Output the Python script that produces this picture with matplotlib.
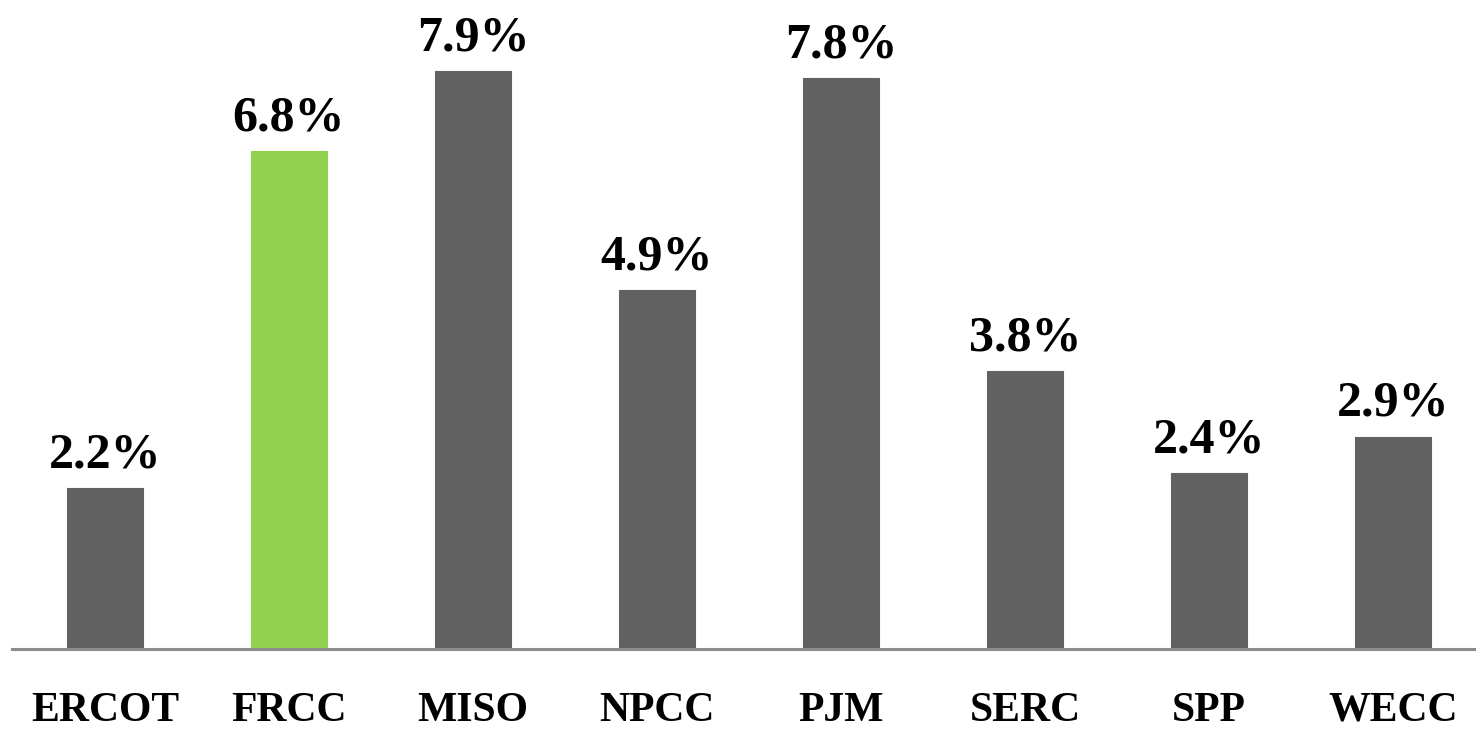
"""Bar chart of regional percentages, FRCC highlighted."""
import matplotlib
matplotlib.use("Agg")
import matplotlib.pyplot as plt
import numpy as np

regions = ["ERCOT", "FRCC", "MISO", "NPCC", "PJM", "SERC", "SPP", "WECC"]
values = [2.2, 6.8, 7.9, 4.9, 7.8, 3.8, 2.4, 2.9]
highlight = "FRCC"

GRAY = "#616161"
GREEN = "#92d050"

plt.rcParams["font.family"] = ["Liberation Serif", "DejaVu Serif"]
plt.rcParams["font.weight"] = "bold"

fig = plt.figure(figsize=(14.76, 7.31), dpi=100)
W, H = 1476, 731
ax = fig.add_axes([12 / W, 82 / H, 1 - 12 / W, 649 / H])

x = np.arange(len(regions))
colors = [GREEN if r == highlight else GRAY for r in regions]
ax.bar(x, values, width=0.41, color=colors, edgecolor=colors, linewidth=0.8, zorder=2)

ax.set_xlim(-0.505, 7.45)
ax.set_ylim(0, 8.87)

# value labels above bars
for xi, v in zip(x, values):
    ax.annotate(f"{v:.1f}%", xy=(xi, v), xytext=(0, 15), textcoords="offset points",
                ha="center", va="baseline", fontsize=36, fontweight="bold", color="black")

# category labels under the axis line
for xi, r in zip(x, regions):
    ax.annotate(r, xy=(xi, 0), xycoords=("data", "axes fraction"), xytext=(0, -51.5),
                textcoords="offset points", ha="center", va="baseline",
                fontsize=30, fontweight="bold", color="black", annotation_clip=False)

ax.set_xticks([])
ax.set_yticks([])
for s in ["top", "left", "right"]:
    ax.spines[s].set_visible(False)
ax.spines["bottom"].set_color("#8c8c8c")
ax.spines["bottom"].set_linewidth(2.2)
ax.spines["bottom"].set_zorder(3)

fig.savefig("out.png", dpi=100)
